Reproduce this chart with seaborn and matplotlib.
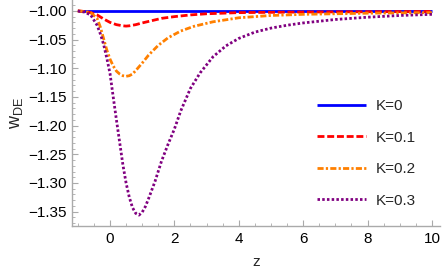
import numpy as np
import pandas as pd
import matplotlib
matplotlib.use("Agg")
import matplotlib.pyplot as plt
import matplotlib.ticker as mticker
import seaborn as sns

# values
z_k0 = [-1.0, 10.0]
w_k0 = [-1.0, -1.0]

z_k01 = [-1.0, -0.8, -0.6, -0.4, -0.2, 0.0, 0.2, 0.4, 0.5, 0.6, 0.8, 1.0, 1.3, 1.6,
         2.0, 2.5, 3.0, 4.0, 5.0, 6.0, 8.0, 10.0]
w_k01 = [-1.000, -1.001, -1.003, -1.007, -1.014, -1.020, -1.024, -1.026, -1.0265, -1.026,
         -1.024, -1.021, -1.017, -1.013, -1.010, -1.007, -1.005, -1.003, -1.0025, -1.002,
         -1.0015, -1.001]

z_k02 = [-1.0, -0.8, -0.6, -0.4, -0.3, -0.2, -0.1, 0.0, 0.1, 0.2, 0.3, 0.4, 0.5, 0.6,
         0.7, 0.8, 1.0, 1.2, 1.5, 1.8, 2.2, 2.6, 3.2, 4.0, 5.0, 6.0, 8.0, 10.0]
w_k02 = [-1.000, -1.001, -1.003, -1.013, -1.028, -1.048, -1.068, -1.084, -1.096, -1.105,
         -1.110, -1.113, -1.114, -1.113, -1.110, -1.104, -1.091, -1.077, -1.060, -1.047,
         -1.035, -1.027, -1.019, -1.012, -1.008, -1.006, -1.004, -1.003]

z_k03 = [-1.0, -0.8, -0.6, -0.4, -0.3, -0.2, -0.1, 0.0, 0.1, 0.2, 0.3, 0.4, 0.5, 0.6,
         0.7, 0.8, 0.9, 1.0, 1.1, 1.2, 1.4, 1.6, 1.8, 2.0, 2.2, 2.5, 2.8, 3.2, 3.6, 4.0,
         4.5, 5.0, 5.5, 6.0, 7.0, 8.0, 9.0, 10.0]
w_k03 = [-1.000, -1.002, -1.007, -1.025, -1.040, -1.058, -1.082, -1.109, -1.150, -1.190,
         -1.229, -1.268, -1.300, -1.325, -1.343, -1.353, -1.356, -1.351, -1.341, -1.327,
         -1.297, -1.262, -1.233, -1.206, -1.174, -1.135, -1.108, -1.080, -1.061, -1.048,
         -1.037, -1.030, -1.025, -1.021, -1.015, -1.011, -1.008, -1.006]

labels = ["K=0", "K=0.1", "K=0.2", "K=0.3"]
colors = ["#0000ff", "#ff0000", "#ff8000", "#800080"]
styles = ["-", (0, (2.5, 1.0)), (0, (2.2, 0.8, 0.8, 0.8)), (0, (0.9, 0.8))]

sns.set_style("ticks")
plt.rcParams["font.family"] = ["Liberation Sans", "DejaVu Sans"]
plt.rcParams["mathtext.fontset"] = "custom"
plt.rcParams["mathtext.rm"] = "Liberation Sans"
plt.rcParams["mathtext.it"] = "Liberation Sans"

fig = plt.figure(figsize=(4.42, 2.79), dpi=100)
ax = fig.add_axes([72 / 442, 53 / 279, 368 / 442, 226 / 279])

series = [(z_k0, w_k0), (z_k01, w_k01), (z_k02, w_k02), (z_k03, w_k03)]
for (zs, ws), lab, col, ls in zip(series, labels, colors, styles):
    df = pd.DataFrame({"z": zs, "w": ws})
    sns.lineplot(data=df, x="z", y="w", ax=ax, color=col, linestyle=ls,
                 linewidth=2.0, label=lab, solid_capstyle="butt", dash_capstyle="butt")

ax.set_xlim(-1.18, 10.25)
ax.set_ylim(-1.375, -0.981)

ax.xaxis.set_major_locator(mticker.FixedLocator([0, 2, 4, 6, 8, 10]))
ax.xaxis.set_minor_locator(mticker.MultipleLocator(0.5))
ax.yaxis.set_major_locator(mticker.FixedLocator(np.round(np.arange(-1.35, -0.99, 0.05), 2)))
ax.yaxis.set_minor_locator(mticker.MultipleLocator(0.01))
ax.xaxis.set_major_formatter(mticker.FuncFormatter(lambda v, p: f"{v:g}"))
ax.yaxis.set_major_formatter(mticker.FuncFormatter(lambda v, p: f"{v:.2f}".replace("-", "\u2212")))

for s in ["top", "right"]:
    ax.spines[s].set_visible(False)
for s in ["left", "bottom"]:
    ax.spines[s].set_color("#aaaaaa")
    ax.spines[s].set_linewidth(1.0)

ax.tick_params(which="both", direction="in", color="#aaaaaa", labelsize=11, labelcolor="black")
ax.tick_params(which="major", length=4, width=0.8, pad=4)
ax.tick_params(which="minor", length=2.5, width=0.6)

ax.set_xlabel("z", fontsize=11, labelpad=7)
ax.set_ylabel(r"$\mathrm{w}_{\mathrm{DE}}$", fontsize=13, labelpad=2)

ax.legend(loc="upper left", bbox_to_anchor=(317 / 442, 1 - 99 / 279),
          bbox_transform=fig.transFigure, frameon=False, fontsize=11,
          handlelength=3.2, handletextpad=0.65, labelspacing=1.15,
          borderpad=0, borderaxespad=0)

fig.savefig("out.png", dpi=100)
